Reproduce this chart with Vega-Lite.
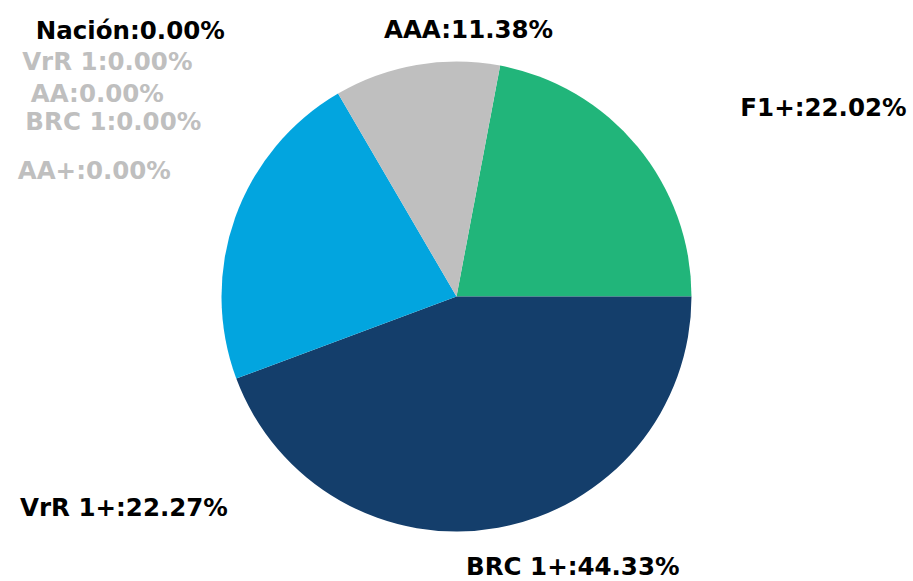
{
  "$schema": "https://vega.github.io/schema/vega-lite/v6.json",
  "width": 913,
  "height": 581,
  "autosize": {"type": "fit", "contains": "padding"},
  "padding": {"top": 12, "bottom": 0, "left": 0, "right": 0},
  "background": "white",
  "view": {"stroke": null},
  "data": {
    "values": [
      {"cat": "F1+", "value": 22.02, "orden": 1},
      {"cat": "BRC 1+", "value": 44.33, "orden": 2},
      {"cat": "VrR 1+", "value": 22.27, "orden": 3},
      {"cat": "Nación", "value": 0, "orden": 4},
      {"cat": "VrR 1", "value": 0, "orden": 5},
      {"cat": "AA", "value": 0, "orden": 6},
      {"cat": "BRC 1", "value": 0, "orden": 7},
      {"cat": "AA+", "value": 0, "orden": 8},
      {"cat": "AAA", "value": 11.38, "orden": 9}
    ]
  },
  "encoding": {
    "theta": {"field": "value", "type": "quantitative", "stack": true, "scale": {"range": [0.1868, 6.47]}},
    "order": {"field": "orden", "type": "quantitative", "sort": "ascending"}
  },
  "layer": [
    {
      "mark": {"type": "arc", "outerRadius": 235},
      "encoding": {
        "color": {
          "field": "cat",
          "type": "nominal",
          "legend": null,
          "scale": {
            "domain": ["F1+", "BRC 1+", "VrR 1+", "Nación", "VrR 1", "AA", "BRC 1", "AA+", "AAA"],
            "range": ["#21b57a", "#143e6b", "#02a5df", "#7f7f7f", "#7f7f7f", "#7f7f7f", "#7f7f7f", "#7f7f7f", "#bfbfbf"]
          }
        }
      }
    },
    {
      "mark": {
        "type": "text",
        "radius": 300,
        "font": "DejaVu Sans",
        "fontWeight": "bold",
        "fontSize": 24.5,
        "align": "center",
        "baseline": "alphabetic",
        "text": {"expr": "datum.cat + ':' + format(datum.value, '.2f') + '%'"},
        "dx": {"expr": "({'F1+': 136, 'BRC 1+': 63, 'VrR 1+': -50, 'AAA': 63, 'Nación': -175, 'VrR 1': -198, 'AA': -208, 'BRC 1': -192, 'AA+': -211})[datum.cat]"},
        "dy": {"expr": "({'F1+': 11, 'BRC 1+': -17, 'VrR 1+': 320, 'AAA': 37, 'Nación': 2, 'VrR 1': 33, 'AA': 65, 'BRC 1': 93, 'AA+': 142})[datum.cat]"}
      },
      "encoding": {
        "detail": {"field": "cat", "type": "nominal"},
        "color": {
          "condition": {"test": "indexof(['VrR 1', 'AA', 'BRC 1', 'AA+'], datum.cat) >= 0", "value": "#bfbfbf"},
          "value": "#000000"
        }
      }
    }
  ]
}
